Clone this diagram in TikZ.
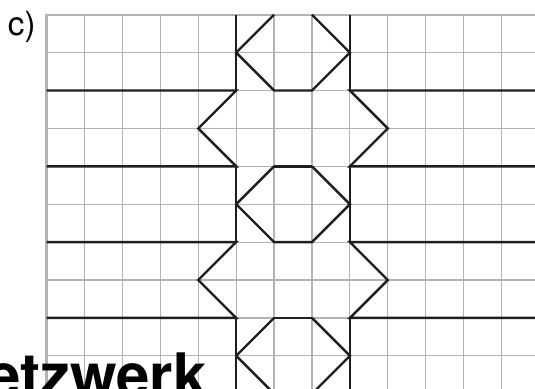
\documentclass[tikz,border=0pt]{standalone}
\usepackage{fontspec}
\newfontfamily\heros{TeX Gyre Heros}
\usepackage{tikz}
\usetikzlibrary{positioning}
\definecolor{gridgray}{RGB}{176,180,184}
\definecolor{wallblack}{RGB}{30,30,30}

\begin{document}
\begin{tikzpicture}[
            gridline/.style = {draw=gridgray, line width=0.9pt},
            gridborder/.style = {draw=gridgray, line width=1.8pt},
            wall/.style = {draw=wallblack, line width=1.8pt, line join=miter},
            every node/.style = {inner sep=0pt, font=\heros}
                    ]
            \useasboundingbox (-1.232,0.388) rectangle (12.884,-9.850);
            \clip (-1.232,0.388) rectangle (12.884,-9.850);
            %
            \draw [gridline] (0,0) grid (14,-11);
            \draw [gridborder] (0,-11) -- (0,0) -- (14,0);
            %
            \foreach \k in {0,4,8}
            {
                \draw [wall] (5,-\k) -- (5,-\k-2)
                             (8,-\k) -- (8,-\k-2);
                \draw [wall] (6,-\k) -- (5,-\k-1) -- (6,-\k-2) -- (7,-\k-2)
                             -- (8,-\k-1) -- (7,-\k);
            }
            \foreach \k in {4,8}
                \draw [wall] (6,-\k) -- (7,-\k);
            \foreach \k in {0,4}
            {
                \draw [wall] (0,-\k-2) -- (5,-\k-2) -- (4,-\k-3) -- (5,-\k-4) -- (0,-\k-4);
                \draw [wall] (14,-\k-2) -- (8,-\k-2) -- (9,-\k-3) -- (8,-\k-4) -- (14,-\k-4);
            }
            %
            \node (LBL) [anchor=base west, font=\heros\fontsize{25}{25}\selectfont]
                  at (-1.03,-0.54) {c)};
            \node (NETZ) [anchor=base west, fill=white, text height=0.7em,
                          font=\heros\bfseries\fontsize{45}{45}\selectfont]
                  at (-1.575,-10.07) {etzwerk};
\end{tikzpicture}
\end{document}
